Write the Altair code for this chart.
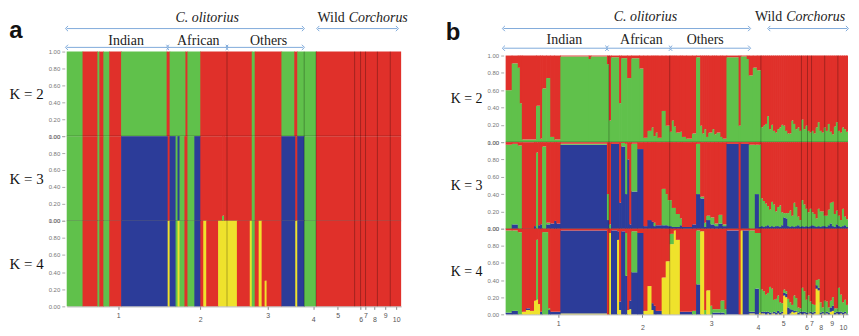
import json
import altair as alt
import pandas as pd

N = 169
CLUSTERS = ["yellow", "blue", "green", "red"]
PALETTE = ["#efe22c", "#2c3c99", "#60c14b", "#e0302a"]
ARROW_BLUE = "#80aadb"
SERIF = "Liberation Serif"
SANS = "Liberation Sans"
OVERLAP = 0.35  # rendering overlap between neighbouring bars (hides anti-alias seams)

pop_tick_pos = [26, 67.5, 101.5, 124.5, 137, 148.5, 151, 155.5, 161, 166.5]
pop_tick_txt = ["1", "2", "3", "4", "5", "6", "7", "8", "9", "10"]
bounds_a = [81, 120, 126, 145.5, 148.5, 151, 157, 163.5]
bounds_b = [51, 81, 126, 146, 149, 151, 157.5, 164]

# ---- panel a : run edges (individual index) and cluster codes ----
CODE = {"G": (0, 0, 1), "R": (0, 0, 0), "B": (0, 1, 0), "Y": (1, 0, 0),
        "y": (0.3, 0, 0), "g": (0, 0, 0.06)}
a_k2_edges = [0, 8, 15.5, 16.5, 18.5, 21.5, 27.5, 50.5, 52, 60, 61, 67.5, 93.5, 95,
              108.5, 115, 116.5, 126, 169]
a_k2_codes = "GRGRGRGRGRGRGRGRGR"
a_k3_edges = [0, 8, 15.5, 16.5, 18.5, 21.5, 27.5, 51, 52, 55, 56, 57, 59.5, 61, 64.5,
              67.5, 78.5, 79.5, 93.5, 95, 108.5, 115.5, 116.5, 120, 126, 169]
a_k3_codes = "GRGRGRBRBGBGRGBRgRGRBRBGR"
a_k4_edges = [0, 8, 15.5, 16.5, 18.5, 21.5, 27.5, 51, 52, 55, 56, 57, 59.5, 61, 64.5,
              67.5, 69, 70.5, 76.5, 86, 92.5, 93.5, 95, 97, 98.5, 100, 101, 108.5,
              115.5, 116.5, 120, 126, 169]
a_k4_codes = "GRGRGRBYBGYGRGBRYRYRYGRYRyRBYBGR"

# ---- panel b : runs (start, end, green) for K=2 ----
b_k2_runs = [(0, 3, 0.60), (3, 6, 0.91), (6, 7, 0.86), (7, 8, 0.45), (8, 15, 0.03),
             (15, 17, 0.42), (17, 18, 0.04), (18, 20, 0.62), (20, 22, 0.74), (22, 24, 0.06),
             (24, 27, 0.03), (27, 41, 0.99), (41, 42, 0.96), (42, 50, 0.99), (50, 51, 0.90),
             (51, 52, 0.25), (52, 56, 0.98), (56, 57, 0.45), (57, 60, 0.97), (60, 62, 0.74),
             (62, 66, 0.97), (66, 68, 0.85), (68, 70, 0.05), (70, 72, 0.13), (72, 73, 0.17),
             (73, 74, 0.07), (74, 75, 0.11), (75, 77, 0.05), (77, 79, 0.36), (79, 81, 0.19),
             (81, 82, 0.12), (82, 83, 0.25), (83, 84, 0.18), (84, 86, 0.11), (86, 87, 0.12),
             (87, 89, 0.06), (89, 92, 0.04), (92, 94, 0.10), (94, 96, 0.98), (96, 97, 0.19),
             (97, 98, 0.10), (98, 99, 0.15), (99, 100, 0.06), (100, 102, 0.11),
             (102, 103, 0.15), (103, 104, 0.09), (104, 106, 0.11), (106, 107, 0.06),
             (107, 109, 0.04), (109, 115, 0.98), (115, 116, 0.19), (116, 119, 0.99),
             (119, 120, 0.96), (120, 122, 0.77), (122, 124, 0.86), (124, 126, 0.83)]
# runs (start, end, blue, green) for K=3
b_k3_runs = [(0, 3, 0.00, 0.97), (3, 6, 0.05, 0.93), (6, 8, 0.00, 0.96), (8, 14, 0.00, 0.00),
             (14, 15, 0.03, 0.00), (15, 16, 0.00, 0.88), (16, 17, 0.04, 0.00), (17, 18, 0.05, 0.00),
             (18, 20, 0.00, 0.95), (20, 22, 0.05, 0.02), (22, 24, 0.06, 0.00), (24, 25, 0.09, 0.00),
             (25, 27, 0.06, 0.00), (27, 50, 0.97, 0.01), (50, 51, 0.10, 0.30), (51, 52, 0.00, 0.05),
             (52, 56, 0.98, 0.00), (56, 57, 0.30, 0.00), (57, 59, 0.95, 0.04), (59, 60, 0.40, 0.58),
             (60, 61, 0.80, 0.00), (61, 62, 0.05, 0.00), (62, 65, 0.43, 0.55), (65, 68, 0.92, 0.00),
             (68, 70, 0.03, 0.00), (70, 72, 0.10, 0.00), (72, 73, 0.08, 0.00), (73, 74, 0.03, 0.04),
             (74, 77, 0.04, 0.00), (77, 79, 0.04, 0.42), (79, 80, 0.04, 0.36), (80, 82, 0.03, 0.30),
             (82, 84, 0.02, 0.22), (84, 86, 0.02, 0.15), (86, 87, 0.04, 0.08), (87, 92, 0.02, 0.00),
             (92, 94, 0.05, 0.00), (94, 96, 0.40, 0.58), (96, 98, 0.35, 0.02), (98, 99, 0.02, 0.05),
             (99, 101, 0.10, 0.05), (101, 103, 0.05, 0.08), (103, 105, 0.03, 0.03),
             (105, 107, 0.06, 0.10), (107, 109, 0.03, 0.02), (109, 115, 0.98, 0.00),
             (115, 116, 0.00, 0.00), (116, 120, 0.98, 0.00), (120, 123, 0.00, 0.97),
             (123, 125, 0.40, 0.57), (125, 126, 0.02, 0.95)]
# runs (start, end, yellow, blue, green) for K=4
b_k4_runs = [(0, 3, 0.00, 0.02, 0.96), (3, 6, 0.00, 0.04, 0.94), (6, 8, 0.00, 0.00, 0.96),
             (8, 10, 0.03, 0.00, 0.00), (10, 12, 0.05, 0.02, 0.00), (12, 14, 0.04, 0.00, 0.00),
             (14, 15, 0.16, 0.00, 0.00), (15, 16, 0.17, 0.00, 0.70), (16, 17, 0.12, 0.00, 0.00),
             (17, 18, 0.00, 0.03, 0.00), (18, 21, 0.00, 0.00, 0.96), (21, 22, 0.00, 0.05, 0.02),
             (22, 27, 0.00, 0.03, 0.00), (27, 50, 0.01, 0.97, 0.00), (50, 51, 0.00, 0.00, 0.00),
             (51, 52, 0.95, 0.00, 0.00), (52, 55, 0.00, 0.98, 0.00), (55, 56, 0.87, 0.10, 0.00),
             (56, 57, 0.05, 0.10, 0.00), (57, 59, 0.00, 0.97, 0.00), (59, 60, 0.00, 0.45, 0.50),
             (60, 61, 0.05, 0.00, 0.00), (61, 62, 0.06, 0.10, 0.00), (62, 65, 0.00, 0.49, 0.48),
             (65, 68, 0.00, 0.95, 0.00), (68, 70, 0.04, 0.00, 0.00), (70, 72, 0.33, 0.00, 0.00),
             (72, 73, 0.05, 0.08, 0.00), (73, 74, 0.00, 0.10, 0.00), (74, 77, 0.00, 0.04, 0.00),
             (77, 79, 0.43, 0.00, 0.00), (79, 81, 0.62, 0.00, 0.00), (81, 83, 0.82, 0.00, 0.12),
             (83, 84, 0.98, 0.00, 0.00), (84, 86, 0.87, 0.00, 0.00), (86, 92, 0.00, 0.03, 0.00),
             (92, 94, 0.00, 0.00, 0.04), (94, 96, 0.00, 0.35, 0.63), (96, 98, 0.97, 0.00, 0.00),
             (98, 99, 0.00, 0.00, 0.05), (99, 101, 0.28, 0.00, 0.00), (101, 102, 0.00, 0.00, 0.10),
             (102, 106, 0.00, 0.02, 0.04), (106, 108, 0.00, 0.02, 0.14), (108, 109, 0.00, 0.00, 0.06),
             (109, 115, 0.00, 0.98, 0.00), (115, 116, 0.00, 0.00, 0.00), (116, 117, 0.98, 0.00, 0.00),
             (117, 120, 0.00, 0.98, 0.00), (120, 123, 0.01, 0.02, 0.95), (123, 125, 0.00, 0.30, 0.65),
             (125, 126, 0.02, 0.00, 0.93)]

# wild Corchorus individuals (index 126..168), one value each
WILD_START = 126
wild_k2_green = [0.17, 0.19, 0.21, 0.30, 0.15, 0.20, 0.13, 0.11, 0.15, 0.17, 0.20, 0.19, 0.13,
                 0.10, 0.10, 0.25, 0.21, 0.15, 0.17, 0.13, 0.26, 0.15, 0.19, 0.13, 0.11, 0.13,
                 0.10, 0.17, 0.23, 0.13, 0.11, 0.17, 0.13, 0.21, 0.12, 0.09, 0.18, 0.23, 0.13,
                 0.11, 0.17, 0.15, 0.12]
wild_k3_green = [0.32, 0.30, 0.26, 0.22, 0.20, 0.28, 0.26, 0.17, 0.22, 0.25, 0.15, 0.05, 0.06,
                 0.15, 0.19, 0.12, 0.28, 0.22, 0.10, 0.08, 0.30, 0.26, 0.20, 0.17, 0.20, 0.15,
                 0.14, 0.10, 0.20, 0.18, 0.17, 0.12, 0.13, 0.18, 0.24, 0.28, 0.15, 0.16, 0.12,
                 0.08, 0.20, 0.10, 0.09]
wild_k3_blue = [0.03, 0.02, 0.03, 0.04, 0.02, 0.03, 0.02, 0.03, 0.03, 0.02, 0.04, 0.13, 0.12,
                0.03, 0.02, 0.03, 0.02, 0.03, 0.04, 0.02, 0.03, 0.02, 0.03, 0.02, 0.03, 0.04,
                0.03, 0.02, 0.03, 0.02, 0.03, 0.03, 0.02, 0.04, 0.06, 0.03, 0.02, 0.05, 0.03,
                0.02, 0.03, 0.04, 0.02]
wild_k4_green = [0.26, 0.24, 0.20, 0.22, 0.30, 0.28, 0.14, 0.16, 0.18, 0.12, 0.10, 0.04, 0.03,
                 0.10, 0.08, 0.06, 0.18, 0.15, 0.06, 0.04, 0.28, 0.24, 0.15, 0.20, 0.12, 0.10,
                 0.08, 0.06, 0.10, 0.12, 0.05, 0.15, 0.12, 0.06, 0.08, 0.10, 0.05, 0.04, 0.28,
                 0.20, 0.12, 0.14, 0.10]
wild_k4_yellow = [0.01, 0.01, 0.00, 0.01, 0.00, 0.01, 0.01, 0.00, 0.01, 0.00, 0.01, 0.22, 0.20,
                  0.00, 0.01, 0.03, 0.02, 0.03, 0.00, 0.01, 0.00, 0.01, 0.00, 0.01, 0.01, 0.00,
                  0.01, 0.30, 0.28, 0.00, 0.01, 0.00, 0.01, 0.00, 0.03, 0.04, 0.00, 0.01, 0.00,
                  0.01, 0.00, 0.01, 0.00]
wild_k4_blue = [0.02, 0.02, 0.03, 0.02, 0.02, 0.01, 0.02, 0.02, 0.03, 0.02, 0.02, 0.03, 0.04,
                0.08, 0.05, 0.02, 0.02, 0.01, 0.02, 0.02, 0.03, 0.02, 0.02, 0.01, 0.02, 0.02,
                0.02, 0.04, 0.03, 0.02, 0.02, 0.01, 0.02, 0.02, 0.05, 0.06, 0.02, 0.02, 0.03,
                0.02, 0.02, 0.02, 0.01]

# header annotations (individual-index positions)
a_top_arrows = [(0, 119.5), (127, 167)]
a_sub_arrows = [(0, 51), (51, 81), (81, 119.5)]
a_groups = [(30, "Indian"), (66.5, "African"), (102, "Others")]
a_olitorius_x, a_wild_x = 71, 140.5
b_top_arrows = [(-1, 120.3), (130, 168.6)]
b_sub_arrows = [(-1, 49.8), (50.2, 81.2), (81.6, 120.3)]
b_groups = [(29, "Indian"), (67, "African"), (98.5, "Others")]
b_olitorius_x, b_wild_x = 69, 136.5


def from_codes(edges, codes):
    return [(edges[i], edges[i + 1]) + CODE[c] for i, c in enumerate(codes)]


def wild_runs(yel, blu, grn):
    return [(WILD_START + i, WILD_START + i + 1, yel[i], blu[i], grn[i]) for i in range(len(grn))]


def stack(runs):
    rows = []
    for x0, x1, yv, bv, gv in runs:
        rv = round(max(0.0, 1.0 - yv - bv - gv), 4)
        right = x1 + OVERLAP if x1 < N else x1
        base = 0.0
        for name, v in zip(CLUSTERS, (yv, bv, gv, rv)):
            if v > 0.001:
                top = round(min(1.0, base + v), 4)
                rows.append({"x": float(x0), "x2": float(right), "y": round(base, 4),
                             "y2": top, "c": name})
                base = top
    return pd.DataFrame(rows)


X_SCALE = alt.Scale(domain=[0, N], nice=False, zero=False)
COLOR_SCALE = alt.Scale(domain=CLUSTERS, range=PALETTE)
LABEL_EXPR = f"{json.dumps(pop_tick_txt)}[indexof({json.dumps(pop_tick_pos)}, datum.value)]"
LOW_LABELS = json.dumps(pop_tick_pos[1::2])


def k_chart(runs, k, width, height, bounds, bottom, kfs):
    yaxis = alt.Axis(values=[0, 0.2, 0.4, 0.6, 0.8, 1.0], format=".2f", title=f"K = {k}",
                     titleAngle=0, titleAlign="right", titleBaseline="middle", titleFont=SERIF,
                     titleFontSize=kfs, titleFontWeight="normal", titleColor="#111",
                     titlePadding=5, labelFont=SANS, labelFontSize=6, labelColor="#777",
                     labelPadding=2, tickSize=3, tickColor="#aaa", domain=False, grid=False,
                     offset=2)
    if bottom:
        xaxis = alt.Axis(values=pop_tick_pos, labelExpr=LABEL_EXPR, title=None, grid=False,
                         labelFont=SANS, labelFontSize=7, labelColor="#555", tickSize=3,
                         tickColor="#888", domainColor="#aaa", labelOverlap=False,
                         labelFlush=False,
                         labelPadding={"condition": {"test": f"indexof({LOW_LABELS}, datum.value) >= 0",
                                                     "value": 6}, "value": 2})
    else:
        xaxis = None
    x_enc = alt.X("x:Q", scale=X_SCALE, axis=xaxis)
    y_enc = alt.Y("y:Q", scale=alt.Scale(domain=[0, 1], nice=False), axis=yaxis)
    bars = alt.Chart(stack(runs)).mark_rect().encode(
        x=x_enc, x2="x2:Q", y=y_enc, y2="y2:Q",
        color=alt.Color("c:N", scale=COLOR_SCALE, legend=None))
    vlines = alt.Chart(pd.DataFrame({"x": bounds})).mark_rule(
        color="#000", opacity=0.28, strokeWidth=1).encode(x=x_enc)
    layers = [bars, vlines]
    if not bottom:
        hline = alt.Chart(pd.DataFrame({"y": [0.0]})).mark_rule(
            color="#000", opacity=0.35, strokeWidth=1).encode(y=y_enc)
        layers.append(hline)
    return alt.layer(*layers).properties(width=width, height=height)


CHEV_L = "M 0.5 -1 L -0.5 0 L 0.5 1"
CHEV_R = "M -0.5 -1 L 0.5 0 L -0.5 1"


def header(width, height, letter, pad, rows, top_arrows, sub_arrows, groups, olit_x, wild_x):
    r_title, r_top, r_sub_text, r_sub = rows
    x_enc = alt.X("x:Q", scale=X_SCALE, axis=None)
    y_enc = alt.Y("y:Q", scale=alt.Scale(domain=[0, 1], nice=False),
                  axis=alt.Axis(title=letter, titleAngle=0, titleAlign="right",
                                titleBaseline="middle", titleFont=SANS, titleFontSize=24,
                                titleFontWeight="bold", titleColor="#111", titlePadding=pad,
                                labels=False, ticks=False, domain=False, grid=False))
    arrows = pd.DataFrame([{"x": a, "x2": b, "y": r_top} for a, b in top_arrows] +
                          [{"x": a, "x2": b, "y": r_sub} for a, b in sub_arrows])
    lines = alt.Chart(arrows).mark_rule(color=ARROW_BLUE, strokeWidth=1).encode(
        x=x_enc, x2="x2:Q", y=y_enc)
    left = alt.Chart(arrows).mark_point(shape=CHEV_L, size=28, filled=False, strokeWidth=1,
                                        color=ARROW_BLUE, opacity=1).encode(x=x_enc, y=y_enc)
    right = alt.Chart(arrows.assign(x=arrows["x2"])).mark_point(
        shape=CHEV_R, size=28, filled=False, strokeWidth=1, color=ARROW_BLUE,
        opacity=1).encode(x=x_enc, y=y_enc)
    grp = pd.DataFrame([{"x": x, "y": r_sub_text, "t": t} for x, t in groups])
    grp_text = alt.Chart(grp).mark_text(font=SERIF, fontSize=14, color="#222",
                                        baseline="middle").encode(x=x_enc, y=y_enc, text="t:N")
    olit = alt.Chart(pd.DataFrame([{"x": olit_x, "y": r_title, "t": "C. olitorius"}])).mark_text(
        font=SERIF, fontSize=14, fontStyle="italic", color="#222", baseline="middle").encode(
        x=x_enc, y=y_enc, text="t:N")
    wild = alt.Chart(pd.DataFrame([{"x": wild_x, "y": r_title, "t": "Wild"}])).mark_text(
        font=SERIF, fontSize=14, color="#222", baseline="middle", align="right").encode(
        x=x_enc, y=y_enc, text="t:N")
    corch = alt.Chart(pd.DataFrame([{"x": wild_x, "y": r_title, "t": "Corchorus"}])).mark_text(
        font=SERIF, fontSize=14, fontStyle="italic", color="#222", baseline="middle",
        align="left", dx=4).encode(x=x_enc, y=y_enc, text="t:N")
    return alt.layer(lines, left, right, grp_text, olit, wild, corch).properties(
        width=width, height=height)


WA, WB = 336, 344
a_runs = [from_codes(a_k2_edges, a_k2_codes), from_codes(a_k3_edges, a_k3_codes),
          from_codes(a_k4_edges, a_k4_codes)]
zeros = [0.0] * len(wild_k2_green)
b_runs = [[(x0, x1, 0.0, 0.0, g) for x0, x1, g in b_k2_runs] + wild_runs(zeros, zeros, wild_k2_green),
          [(x0, x1, 0.0, b, g) for x0, x1, b, g in b_k3_runs] + wild_runs(zeros, wild_k3_blue, wild_k3_green),
          list(b_k4_runs) + wild_runs(wild_k4_yellow, wild_k4_blue, wild_k4_green)]

panel_a = alt.vconcat(
    header(WA, 42, "a", 45, (0.81, 0.55, 0.26, 0.1), a_top_arrows, a_sub_arrows, a_groups,
           a_olitorius_x, a_wild_x),
    k_chart(a_runs[0], 2, WA, 85, bounds_a, False, 15),
    k_chart(a_runs[1], 3, WA, 85, bounds_a, False, 15),
    k_chart(a_runs[2], 4, WA, 86, bounds_a, True, 15),
    spacing=0, bounds="flush")
panel_b = alt.vconcat(
    header(WB, 46, "b", 46, (0.85, 0.59, 0.33, 0.16), b_top_arrows, b_sub_arrows, b_groups,
           b_olitorius_x, b_wild_x),
    k_chart(b_runs[0], 2, WB, 87, bounds_b, False, 14),
    k_chart(b_runs[1], 3, WB, 87, bounds_b, False, 14),
    k_chart(b_runs[2], 4, WB, 86, bounds_b, True, 14),
    spacing=0, bounds="flush")

chart = alt.hconcat(panel_a, panel_b, spacing=37).properties(
    padding=0, background="white").configure_view(stroke=None)

chart.save("out.html", embed_options={"renderer": "svg", "actions": False})
